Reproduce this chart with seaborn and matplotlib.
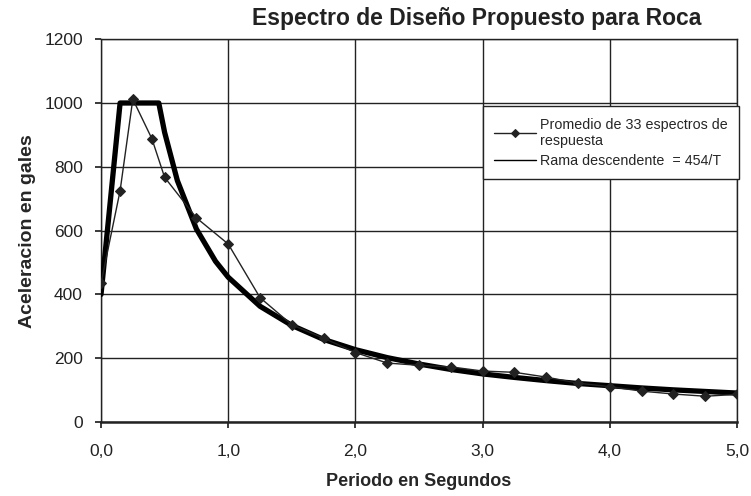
import numpy as np
import pandas as pd
import seaborn as sns
from matplotlib import pyplot as plt

# Promedio de 33 espectros de respuesta
promedio_t = [0.0, 0.15, 0.25, 0.40, 0.50, 0.75, 1.00, 1.25, 1.50, 1.75, 2.00,
              2.25, 2.50, 2.75, 3.00, 3.25, 3.50, 3.75, 4.00, 4.25, 4.50, 4.75, 5.00]
promedio_a = [435, 725, 1012, 888, 767, 640, 558, 390, 305, 263, 218,
              185, 178, 173, 160, 156, 141, 122, 111, 97, 88, 81, 87]

# Espectro de diseño: meseta + rama descendente 454/T
diseno_t = [0.0, 0.15, 0.454, 0.50, 0.60, 0.75, 0.90, 1.00, 1.25, 1.50, 1.75, 2.00,
            2.25, 2.50, 2.75, 3.00, 3.25, 3.50, 3.75, 4.00, 4.25, 4.50, 4.75, 5.00]
diseno_a = [400, 1000, 1000, 908, 757, 605, 504, 454, 363, 303, 259, 227,
            202, 182, 165, 151, 140, 130, 121, 114, 107, 101, 96, 91]

x_ticks = [0, 1, 2, 3, 4, 5]
x_tick_labels = ["0,0", "1,0", "2,0", "3,0", "4,0", "5,0"]
y_ticks = [0, 200, 400, 600, 800, 1000, 1200]

sns.set_theme(style="white")
plt.rcParams["font.family"] = ["Liberation Sans", "DejaVu Sans"]

fig = plt.figure(figsize=(7.51, 4.96), dpi=100)
ax = fig.add_axes([0.1345, 0.149, 0.847, 0.772])

prom_df = pd.DataFrame({"T": promedio_t, "A": promedio_a})
dis_df = pd.DataFrame({"T": diseno_t, "A": diseno_a})

sns.lineplot(data=dis_df, x="T", y="A", ax=ax, color="black", linewidth=3.8,
             label="Rama descendente  = 454/T", zorder=3)
sns.lineplot(data=prom_df, x="T", y="A", ax=ax, color="#222222", linewidth=1.0,
             marker="D", markersize=4.8, markeredgecolor="#222222",
             label="Promedio de 33 espectros de\nrespuesta", zorder=4)

ax.set_xlim(0, 5)
ax.set_ylim(0, 1200)
ax.set_xticks(x_ticks)
ax.set_xticklabels(x_tick_labels)
ax.set_yticks(y_ticks)
ax.tick_params(axis="both", labelsize=12.5, colors="#222222", length=4,
               direction="out", bottom=True, left=True)
ax.tick_params(axis="x", pad=12)
ax.tick_params(axis="y", pad=9)
ax.grid(True, color="#222222", linewidth=1.0)
for side, spine in ax.spines.items():
    spine.set_color("#222222")
    spine.set_linewidth(1.0)
ax.spines["bottom"].set_linewidth(1.8)

ax.set_xlabel("Periodo en Segundos", fontsize=13, fontweight="bold", labelpad=10)
ax.set_ylabel("Aceleracion en gales", fontsize=14, fontweight="bold", labelpad=6)

handles, labels = ax.get_legend_handles_labels()
order = [1, 0]
leg = ax.legend([handles[i] for i in order], [labels[i] for i in order],
                loc="upper left", bbox_to_anchor=(0.6006, 0.725, 0.4025, 0.1),
                mode="expand", fontsize=10.3,
                frameon=True, fancybox=False, framealpha=1, edgecolor="#222222",
                handlelength=2.9, handletextpad=0.3, borderpad=0.8,
                labelspacing=0.4, borderaxespad=0)
leg.get_frame().set_linewidth(1.0)
for line in leg.get_lines():
    line.set_linewidth(1.0)
leg.get_lines()[0].set_markersize(4)

fig.text(0.635, 0.962, "Espectro de Diseño Propuesto para Roca", ha="center",
         va="center", fontsize=16.5, fontweight="bold", color="#222222")

fig.savefig("out.png", dpi=100)
